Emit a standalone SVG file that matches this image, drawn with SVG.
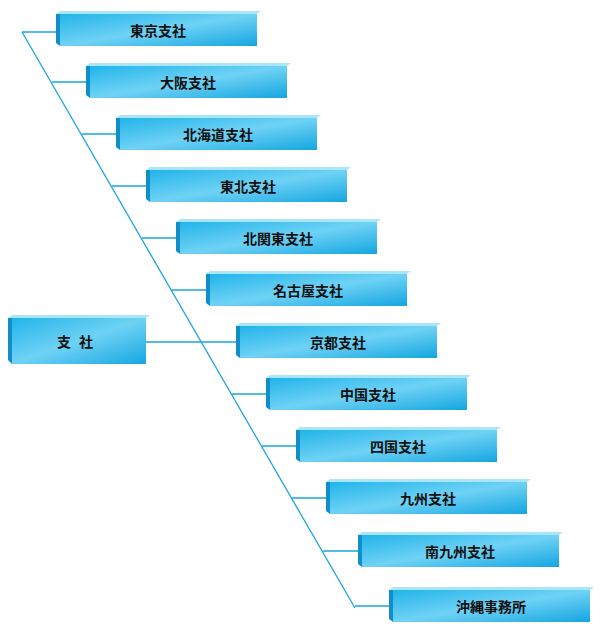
<svg xmlns="http://www.w3.org/2000/svg" width="603" height="640" viewBox="0 0 603 640">
<defs>
<linearGradient id="g" x1="0" y1="0" x2="1" y2="1">
<stop offset="0" stop-color="#22b4ea"/><stop offset="0.5" stop-color="#6fd2f5"/><stop offset="1" stop-color="#14a6e0"/>
</linearGradient>
</defs>
<style>
.f{fill:url(#g)}.s{fill:#0f8fc6}.t{fill:#a9e6fa}
.l{stroke:#19a6e0;stroke-width:1.3;fill:none}
text{font-family:"Noto Sans CJK JP",sans-serif;font-weight:bold;font-size:14px;fill:#111;text-anchor:middle;dominant-baseline:central}
</style>
<rect width="603" height="640" fill="#fff"/>
<g id="connectors" class="l">
<path d="M22 32H56M22 32L355 608"/>
<path d="M52 82H86M82 134H116M112 186H146M142 238H176M172 290H206M202 342H236M232 394H266M262 446H296M292 498H326M323 551H358M355 606H389M146 342H236"/>
</g>
<g id="root"><path class="t" d="M8 318L12 315H150L146 318Z"/><path class="s" d="M8 318H12V364L8 360Z"/><rect class="f" x="12" y="318" width="134" height="46"/><text x="79" y="341" font-size="18" letter-spacing="8">支社</text></g>
<g id="n1"><path class="t" d="M56 14L60 11H261L257 14Z"/><path class="s" d="M56 14H60V46L56 43Z"/><rect class="f" x="60" y="14" width="197" height="32"/><text x="158" y="30">東京支社</text></g>
<g id="n2"><path class="t" d="M86 66L90 63H291L287 66Z"/><path class="s" d="M86 66H90V98L86 95Z"/><rect class="f" x="90" y="66" width="197" height="32"/><text x="188" y="82">大阪支社</text></g>
<g id="n3"><path class="t" d="M116 118L120 115H321L317 118Z"/><path class="s" d="M116 118H120V150L116 147Z"/><rect class="f" x="120" y="118" width="197" height="32"/><text x="218" y="134">北海道支社</text></g>
<g id="n4"><path class="t" d="M146 170L150 167H351L347 170Z"/><path class="s" d="M146 170H150V202L146 199Z"/><rect class="f" x="150" y="170" width="197" height="32"/><text x="248" y="186">東北支社</text></g>
<g id="n5"><path class="t" d="M176 222L180 219H381L377 222Z"/><path class="s" d="M176 222H180V254L176 251Z"/><rect class="f" x="180" y="222" width="197" height="32"/><text x="278" y="238">北関東支社</text></g>
<g id="n6"><path class="t" d="M206 274L210 271H411L407 274Z"/><path class="s" d="M206 274H210V306L206 303Z"/><rect class="f" x="210" y="274" width="197" height="32"/><text x="308" y="290">名古屋支社</text></g>
<g id="n7"><path class="t" d="M236 326L240 323H441L437 326Z"/><path class="s" d="M236 326H240V358L236 355Z"/><rect class="f" x="240" y="326" width="197" height="32"/><text x="338" y="342">京都支社</text></g>
<g id="n8"><path class="t" d="M266 378L270 375H471L467 378Z"/><path class="s" d="M266 378H270V410L266 407Z"/><rect class="f" x="270" y="378" width="197" height="32"/><text x="368" y="394">中国支社</text></g>
<g id="n9"><path class="t" d="M296 430L300 427H501L497 430Z"/><path class="s" d="M296 430H300V462L296 459Z"/><rect class="f" x="300" y="430" width="197" height="32"/><text x="398" y="446">四国支社</text></g>
<g id="n10"><path class="t" d="M326 482L330 479H531L527 482Z"/><path class="s" d="M326 482H330V514L326 511Z"/><rect class="f" x="330" y="482" width="197" height="32"/><text x="428" y="498">九州支社</text></g>
<g id="n11"><path class="t" d="M358 535L362 532H563L559 535Z"/><path class="s" d="M358 535H362V567L358 564Z"/><rect class="f" x="362" y="535" width="197" height="32"/><text x="460" y="551">南九州支社</text></g>
<g id="n12"><path class="t" d="M389 590L393 587H594L590 590Z"/><path class="s" d="M389 590H393V622L389 619Z"/><rect class="f" x="393" y="590" width="197" height="32"/><text x="491" y="606">沖縄事務所</text></g>
</svg>
